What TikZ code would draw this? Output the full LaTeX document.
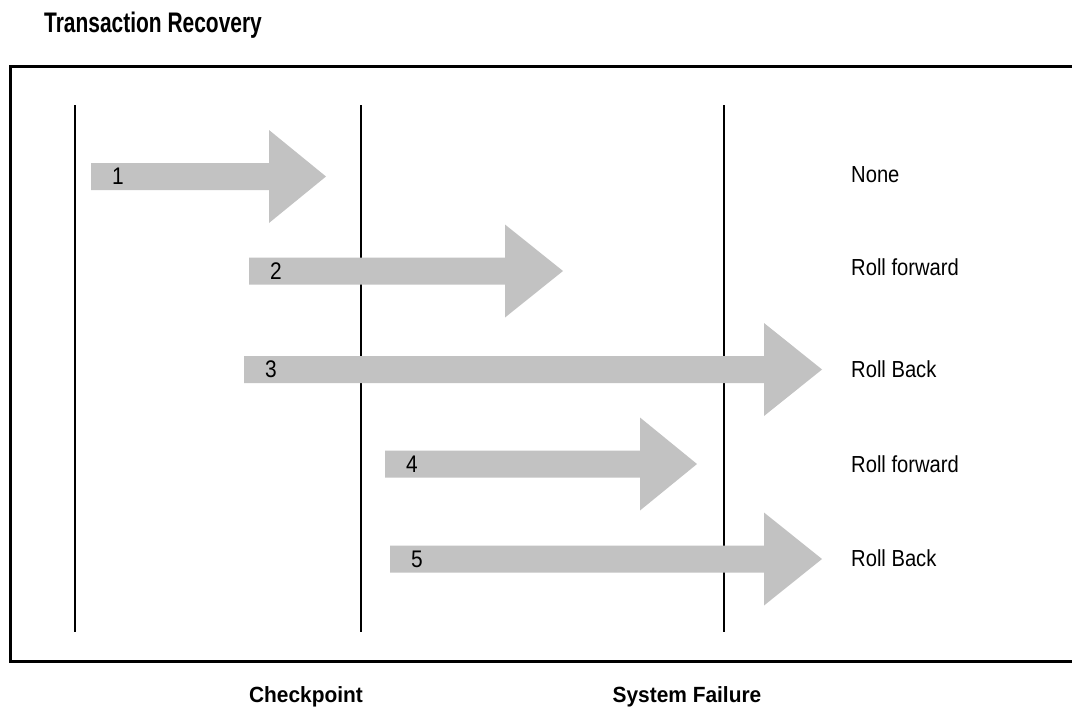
\documentclass[tikz,border=0pt]{standalone}
\usepackage{fontspec}
\usepackage{tikz}
\setmainfont{Liberation Sans}
\newfontfamily\plainfont[FakeStretch=0.87]{Liberation Sans}
\newfontfamily\headfont[FakeStretch=0.74]{Liberation Sans}
\newfontfamily\capfont[FakeStretch=0.95]{Liberation Sans}
\definecolor{arrowgray}{RGB}{194,194,194}
\tikzstyle{timeline} = [line width=2.3pt]
\tikzstyle{frame} = [line width=3pt]
\tikzstyle{block} = [fill=arrowgray]
\tikzstyle{result} = [anchor=base west,inner sep=0pt,font=\plainfont\fontsize{23.2}{27}\selectfont]
\tikzstyle{num} = [anchor=base,inner sep=0pt,font=\plainfont\fontsize{24}{28}\selectfont]
\tikzstyle{caption} = [anchor=base,inner sep=0pt,font=\capfont\bfseries\fontsize{22}{26}\selectfont]

\begin{document}
\begin{tikzpicture}[x=1pt,y=-1pt]
        \useasboundingbox (0,0) rectangle (1072,707);
        \node[anchor=base west,inner sep=0pt,font=\headfont\bfseries\fontsize{28.3}{32}\selectfont] (title) at (44,32) {Transaction Recovery};

        % frame, open on the right
        \draw[frame] (1075,66) -- (10,66) -- (10,661) -- (1075,661);

        % time lines
        \coordinate (startTop) at (75,105);
        \coordinate (startBot) at (75,632);
        \coordinate (cpTop) at (361,105);
        \coordinate (cpBot) at (361,632);
        \coordinate (sfTop) at (724,105);
        \coordinate (sfBot) at (724,632);
        \draw[timeline] (startTop) -- (startBot);
        \draw[timeline] (cpTop) -- (cpBot);
        \draw[timeline] (sfTop) -- (sfBot);

        % transactions
        \foreach \n/\tail/\base/\tip/\y in {1/91/269/326/176.5, 2/249/505/563/271, 3/244/764/822/369.5, 4/385/640/697/464, 5/390/764/822/559}{
                \fill[block] (\tail,\y-13.5) -- (\base,\y-13.5) -- (\base,\y-46.5) -- (\tip,\y)
                        -- (\base,\y+46.5) -- (\base,\y+13.5) -- (\tail,\y+13.5) -- cycle;
                \node[num] (t\n) at (\tail+27,\y+8) {\n};
        }

        \node[result] (res1) at (851,182) {None};
        \node[result] (res2) at (851,275) {Roll forward};
        \node[result] (res3) at (851,377) {Roll Back};
        \node[result] (res4) at (851,472) {Roll forward};
        \node[result] (res5) at (851,566) {Roll Back};

        \node[caption] (checkpoint) at (306,702) {Checkpoint};
        \node[caption] (failure) at (687,702) {System Failure};
\end{tikzpicture}
\end{document}
